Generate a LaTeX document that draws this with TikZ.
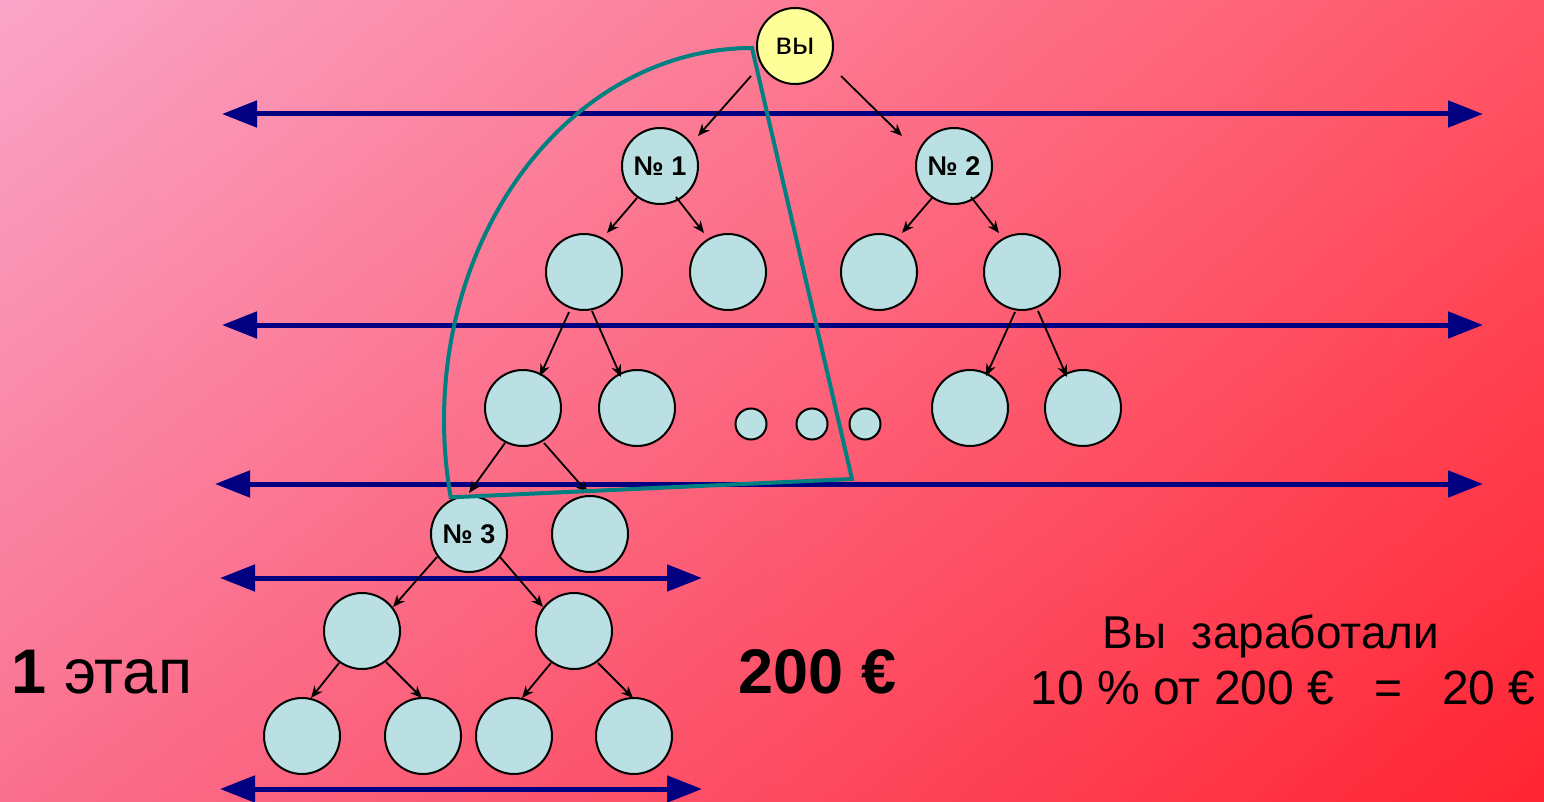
\documentclass[tikz,border=0pt]{standalone}
\usepackage{fontspec}
\setmainfont{Liberation Sans}
\usetikzlibrary{
  arrows.meta,
  calc,
  positioning,
  shadings
}
\definecolor{bgTL}{RGB}{250,165,200}
\definecolor{bgTR}{RGB}{255,85,102}
\definecolor{bgBL}{RGB}{250,112,142}
\definecolor{bgBR}{RGB}{255,36,50}
\definecolor{memberfill}{RGB}{187,224,227}
\definecolor{youfill}{RGB}{255,255,153}
\definecolor{rankblue}{RGB}{0,0,128}
\definecolor{frameteal}{RGB}{0,128,128}
\tikzset{
  member/.style={circle, draw=black, line width=2pt, fill=memberfill,
    minimum size=76pt, inner sep=0pt,
    font=\fontsize{27}{27}\selectfont\bfseries},
  you/.style={member, fill=youfill, font=\fontsize{31}{31}\selectfont},
  gap/.style={member, minimum size=31pt},
  rank/.style={rankblue, line width=5pt,
    >={Triangle[length=35pt,width=26pt]}, <->},
  link/.style={black, line width=1.8pt,
    >={Stealth[length=12pt,width=10pt]}, ->},
  frame/.style={frameteal, line width=4pt}
}

\begin{document}
\begin{tikzpicture}[x=1pt, y=-1pt]
            \shade[upper left=bgTL, upper right=bgTR,
                   lower left=bgBL, lower right=bgBR]
            (0, 0) rectangle (1544, 802);
            \useasboundingbox (0, 0) rectangle (1544, 802);

            \draw[rank] (222, 114) -- (1483, 114);
            \draw[rank] (222, 325) -- (1483, 325);
            \draw[rank] (215, 484) -- (1483, 484);
            \draw[rank] (220, 578) -- (702, 578);
            \draw[rank] (220, 789) -- (702, 789);

            \node[you] (vy) at (795, 46) {вы};
            \node[member] (n1) at (660, 166) {№ 1};
            \node[member] (n2) at (954, 166) {№ 2};

            \node[member] (a1) at (584, 272) {};
            \node[member] (a2) at (728, 272) {};
            \node[member] (a3) at (879, 272) {};
            \node[member] (a4) at (1022, 272) {};

            \node[member] (b1) at (523, 408) {};
            \node[member] (b2) at (637, 408) {};
            \node[gap] (g1) at (751, 424) {};
            \node[gap] (g2) at (812, 424) {};
            \node[gap] (g3) at (865, 424) {};
            \node[member] (b3) at (970, 408) {};
            \node[member] (b4) at (1083, 408) {};

            \node[member] (n3) at (469, 534) {№ 3};
            \node[member] (c2) at (590, 534) {};

            \node[member] (d1) at (362, 631) {};
            \node[member] (d2) at (574, 631) {};

            \node[member] (e1) at (302, 736) {};
            \node[member] (e2) at (423, 736) {};
            \node[member] (e3) at (514, 736) {};
            \node[member] (e4) at (634, 736) {};

            \draw[link] ($(vy) + (-44, 30)$) -- ($(n1) + (38, -30)$);
            \draw[link] ($(vy) + (46, 30)$) -- ($(n2) + (-52, -30)$);
            \draw[link] ($(n1) + (-23, 32)$) -- ($(a1) + (23, -39)$);
            \draw[link] ($(n1) + (16, 31)$) -- ($(a2) + (-24, -39)$);
            \draw[link] ($(n2) + (-22, 32)$) -- ($(a3) + (23, -39)$);
            \draw[link] ($(n2) + (17, 31)$) -- ($(a4) + (-23, -39)$);
            \draw[link] ($(a1) + (-15, 40)$) -- ($(b1) + (17, -32)$);
            \draw[link] ($(a1) + (8, 39)$) -- ($(b2) + (-16, -31)$);
            \draw[link] ($(a4) + (-7, 40)$) -- ($(b3) + (16, -32)$);
            \draw[link] ($(a4) + (16, 39)$) -- ($(b4) + (-16, -31)$);
            \draw[link] ($(b1) + (-18, 35)$) -- ($(n3) + (0, -41)$);
            \draw[link] ($(b1) + (21, 35)$) -- ($(c2) + (-2, -41)$);
            \draw[link] ($(n3) + (-32, 23)$) -- ($(d1) + (31, -24)$);
            \draw[link] ($(n3) + (31, 23)$) -- ($(d2) + (-31, -24)$);
            \draw[link] ($(d1) + (-23, 32)$) -- ($(e1) + (9, -38)$);
            \draw[link] ($(d1) + (24, 31)$) -- ($(e2) + (-1, -38)$);
            \draw[link] ($(d2) + (-23, 32)$) -- ($(e3) + (8, -38)$);
            \draw[link] ($(d2) + (24, 32)$) -- ($(e4) + (-1, -38)$);

            % the part of the tree that is counted
            \draw[frame] (852, 479) -- (752, 48)
            arc[start angle=270, end angle=168, x radius=308, y radius=372]
            -- cycle;

            \node[anchor=base west, font=\fontsize{63}{63}\selectfont]
            (stage) at (8, 693) {\textbf{1} этап};
            \node[anchor=base west, font=\fontsize{63}{63}\selectfont\bfseries]
            (sum) at (735, 693) {200 €};
            \node[anchor=base, font=\fontsize{46}{46}\selectfont]
            (earned) at (1271, 648) {Вы\ \ заработали};
            \node[anchor=base, font=\fontsize{48}{48}\selectfont]
            (share) at (1283, 704) {10 \% от 200 €\ \ \ =\ \ \ 20 €};
          \end{tikzpicture}
\end{document}
